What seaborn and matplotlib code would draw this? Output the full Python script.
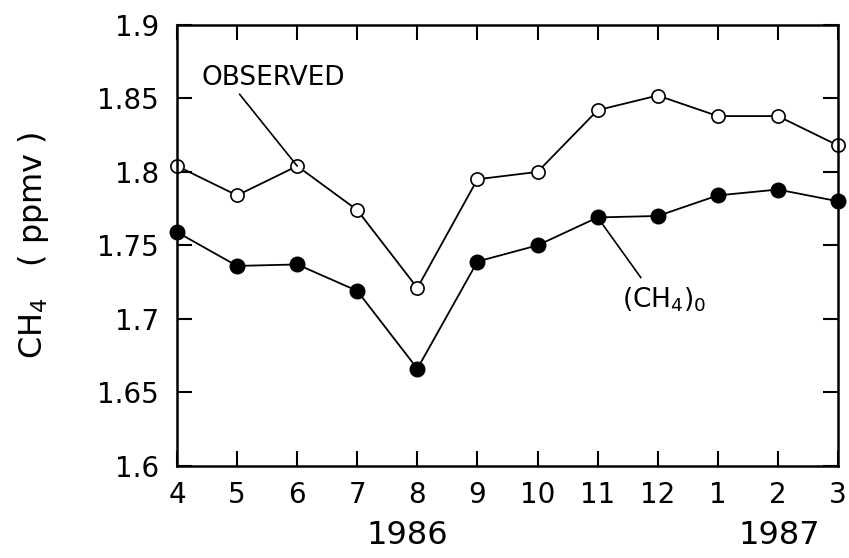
import matplotlib
matplotlib.use("Agg")
import matplotlib.pyplot as plt
import matplotlib.transforms as mtransforms
import seaborn as sns
import pandas as pd

# ---- data ----
months = ["4", "5", "6", "7", "8", "9", "10", "11", "12", "1", "2", "3"]
observed = [1.804, 1.784, 1.804, 1.774, 1.721, 1.795, 1.800, 1.842, 1.852, 1.838, 1.838, 1.818]
ch4_0 = [1.759, 1.736, 1.737, 1.719, 1.666, 1.739, 1.750, 1.769, 1.770, 1.784, 1.788, 1.780]
y_ticks = [1.6, 1.65, 1.7, 1.75, 1.8, 1.85, 1.9]
y_tick_labels = ["1.6", "1.65", "1.7", "1.75", "1.8", "1.85", "1.9"]
years = ["1986", "1987"]

sns.set_style("ticks")
plt.rcParams["font.family"] = ["DejaVu Sans"]
plt.rcParams["text.color"] = "black"
plt.rcParams["axes.labelcolor"] = "black"

df = pd.DataFrame({"idx": range(len(months)), "month": months,
                   "observed": observed, "ch4_0": ch4_0})

fig = plt.figure(figsize=(8.49, 5.58), dpi=100)
ax = fig.add_axes([177 / 849, (558 - 465.7) / 558, (838 - 177) / 849, (465.7 - 25) / 558])

sns.lineplot(data=df, x="idx", y="observed", ax=ax, color="black", lw=1.3,
             marker="o", markersize=9.5, markerfacecolor="white",
             markeredgecolor="black", markeredgewidth=1.2, clip_on=False)
sns.lineplot(data=df, x="idx", y="ch4_0", ax=ax, color="black", lw=1.3,
             marker="o", markersize=10.5, markerfacecolor="black",
             markeredgecolor="black", markeredgewidth=1.0, clip_on=False)

ax.set_xlim(0, len(months) - 1)
ax.set_ylim(1.6, 1.9)
ax.set_xticks(range(len(months)))
ax.set_xticklabels(months)
ax.set_yticks(y_ticks)
ax.set_yticklabels(y_tick_labels)

for sp in ax.spines.values():
    sp.set_visible(True)
    sp.set_linewidth(1.8)
    sp.set_color("black")

ax.tick_params(axis="both", which="major", direction="in", length=11, width=1.5,
               top=True, right=True, labelsize=20, colors="black")
ax.tick_params(axis="x", pad=11)
ax.tick_params(axis="y", pad=13)

ax.set_xlabel("")
ax.set_ylabel("CH$_4$   ( ppmv )", fontsize=23, color="black")
ax.yaxis.set_label_coords(-0.19, 0.5)

# year labels
trans = mtransforms.blended_transform_factory(ax.transData, fig.transFigure)
ax.text(3.83, (558 - 536) / 558, years[0], transform=trans, ha="center", va="center",
        fontsize=23, color="black")
ax.text(10.03, (558 - 536) / 558, years[1], transform=trans, ha="center", va="center",
        fontsize=23, color="black")

# annotations
ax.annotate("OBSERVED", xy=(2, observed[2]), xytext=(0.40, 1.864),
            fontsize=19, ha="left", va="center", color="black",
            arrowprops=dict(arrowstyle="-", color="black", lw=1.2,
                            shrinkA=0, shrinkB=0, relpos=(0.25, 0.0)))
ax.plot([7, 7.72], [ch4_0[7], 1.728], color="black", lw=1.2)
ax.text(7.40, 1.713, "(CH$_4$)$_0$", fontsize=19, ha="left", va="center", color="black")

fig.savefig("out.png", dpi=100)
